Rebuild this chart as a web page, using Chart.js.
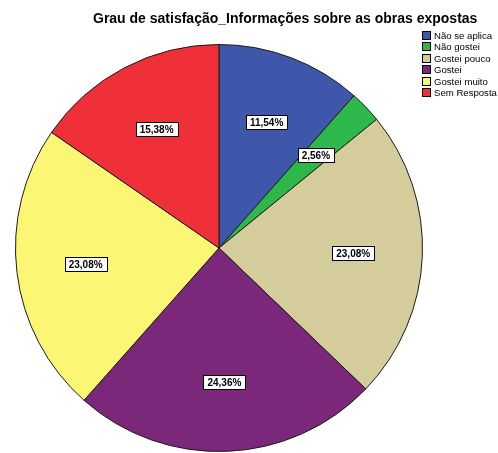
<!doctype html>
<html lang="pt">
<head>
<meta charset="utf-8">
<title>Grau de satisfação_Informações sobre as obras expostas</title>
<style>
  html,body{margin:0;padding:0;background:#fff}
  #wrap{width:498px;height:453px;position:relative}
</style>
</head>
<body>
<div id="wrap"><canvas id="chart" width="498" height="453"></canvas></div>
<script src="https://cdn.jsdelivr.net/npm/chart.js@4.4.1/dist/chart.umd.min.js"></script>
<script>
const TITLE = 'Grau de satisfação_Informações sobre as obras expostas';
const categories = ['Não se aplica', 'Não gostei', 'Gostei pouco', 'Gostei', 'Gostei muito', 'Sem Resposta'];
const percents = [11.54, 2.56, 23.08, 24.36, 23.08, 15.38];
const colors = ['#3e57aa', '#2eb84b', '#d4cc9a', '#7b287a', '#fbf775', '#ef3039'];

const FONT = '"Liberation Sans", Arial, sans-serif';

// title, legend and the boxed value labels
const decor = {
  id: 'decor',
  afterDatasetsDraw(chart) {
    const ctx = chart.ctx;
    const meta = chart.getDatasetMeta(0);
    ctx.save();
    ctx.font = 'bold 10px ' + FONT;
    ctx.textAlign = 'center';
    ctx.textBaseline = 'middle';
    meta.data.forEach((arc, i) => {
      const p = arc.getProps(['x', 'y', 'startAngle', 'endAngle', 'outerRadius'], true);
      const mid = (p.startAngle + p.endAngle) / 2;
      const r = p.outerRadius * 0.66;
      const x = p.x + Math.cos(mid) * r;
      const y = p.y + Math.sin(mid) * r;
      const txt = percents[i].toFixed(2).replace('.', ',') + '%';
      const w = ctx.measureText(txt).width + 8;
      const h = 14;
      ctx.fillStyle = '#fff';
      ctx.fillRect(Math.round(x - w / 2) + 0.5, Math.round(y - h / 2) + 0.5, Math.round(w), h);
      ctx.strokeStyle = '#000';
      ctx.lineWidth = 1;
      ctx.strokeRect(Math.round(x - w / 2) + 0.5, Math.round(y - h / 2) + 0.5, Math.round(w), h);
      ctx.fillStyle = '#000';
      ctx.fillText(txt, x, y + 1);
    });

    ctx.font = 'bold 14px ' + FONT;
    ctx.textAlign = 'left';
    ctx.textBaseline = 'alphabetic';
    ctx.fillStyle = '#000';
    ctx.fillText(TITLE, 93, 23);

    ctx.font = '9.6px ' + FONT;
    ctx.textAlign = 'left';
    ctx.textBaseline = 'middle';
    categories.forEach((c, i) => {
      const y = Math.round(31 + i * 11.4);
      ctx.fillStyle = colors[i];
      ctx.fillRect(422.5, y + 0.5, 8, 8);
      ctx.strokeStyle = '#000';
      ctx.strokeRect(422.5, y + 0.5, 8, 8);
      ctx.fillStyle = '#000';
      ctx.fillText(c, 434, y + 5);
    });
    ctx.restore();
  }
};

new Chart(document.getElementById('chart').getContext('2d'), {
  type: 'pie',
  data: {
    labels: categories,
    datasets: [{
      data: percents,
      backgroundColor: colors,
      borderColor: '#1a1a1a',
      borderWidth: 1
    }]
  },
  options: {
    responsive: false,
    animation: false,
    devicePixelRatio: 1,
    layout: { padding: { left: 15, right: 75, top: 44, bottom: 1 } },
    plugins: { legend: { display: false }, title: { display: false }, tooltip: { enabled: false } }
  },
  plugins: [decor]
});
</script>
</body>
</html>
